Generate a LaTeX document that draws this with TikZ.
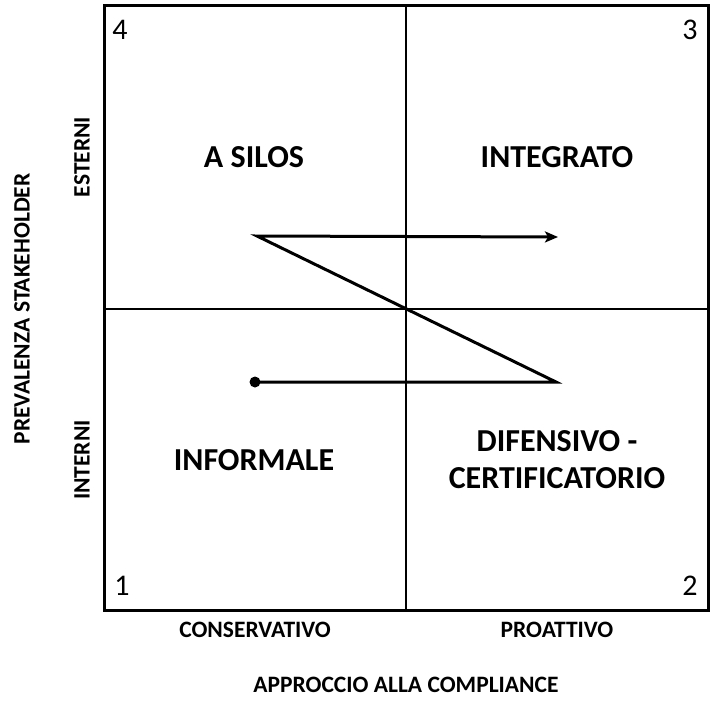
\documentclass[tikz,border=0pt]{standalone}
\usepackage{fontspec}
\setmainfont{Carlito}
\usetikzlibrary{arrows.meta}

\begin{document}
\begin{tikzpicture}[x = 1pt, y = -1pt]
\useasboundingbox (0, 0) rectangle (720, 713);

\tikzset{quadlabel/.style = {font = \bfseries\fontsize{32}{37}\selectfont, align = center},
         axislabel/.style = {font = \bfseries\fontsize{23.5}{28}\selectfont},
         cornernum/.style = {font = \fontsize{30}{34}\selectfont}}

\coordinate (sw) at (104, 610);
\coordinate (ne) at (708, 5);
\coordinate (top) at (406, 5);
\coordinate (bottom) at (406, 610);
\coordinate (left) at (104, 309);
\coordinate (right) at (708, 309);

\draw[line width = 3pt] (sw) rectangle (ne);
\draw[line width = 2.5pt] (top) -- (bottom);
\draw[line width = 2.5pt] (left) -- (right);

\node[quadlabel] (silos) at (254, 157) {A SILOS};
\node[quadlabel] (integrato) at (557, 157) {INTEGRATO};
\node[quadlabel] (informale) at (254, 460) {INFORMALE};
\node[quadlabel] (difensivo) at (557, 460) {DIFENSIVO -\\CERTIFICATORIO};

\node[cornernum] (n4) at (120, 30) {4};
\node[cornernum] (n3) at (690, 30) {3};
\node[cornernum] (n1) at (122, 586) {1};
\node[cornernum] (n2) at (690, 586) {2};

\node[axislabel] (conservativo) at (255, 630) {CONSERVATIVO};
\node[axislabel] (proattivo) at (557, 630) {PROATTIVO};
\node[axislabel] (approccio) at (406, 685) {APPROCCIO ALLA COMPLIANCE};
\node[axislabel, rotate = 90] (esterni) at (82, 157) {ESTERNI};
\node[axislabel, rotate = 90] (interni) at (82, 460) {INTERNI};
\node[axislabel, rotate = 90] (prevalenza) at (22, 309) {PREVALENZA STAKEHOLDER};

\coordinate (start) at (255, 382);
\coordinate (turn1) at (556, 382);
\coordinate (turn2) at (257, 236);
\coordinate (end) at (558, 237);

\fill (start) circle (5.5);
\draw[line width = 3pt, line join = miter, -{Stealth[length = 13pt, width = 11pt, inset = 3pt]}] (start) -- (turn1) -- (turn2) -- (end);

\end{tikzpicture}
\end{document}
